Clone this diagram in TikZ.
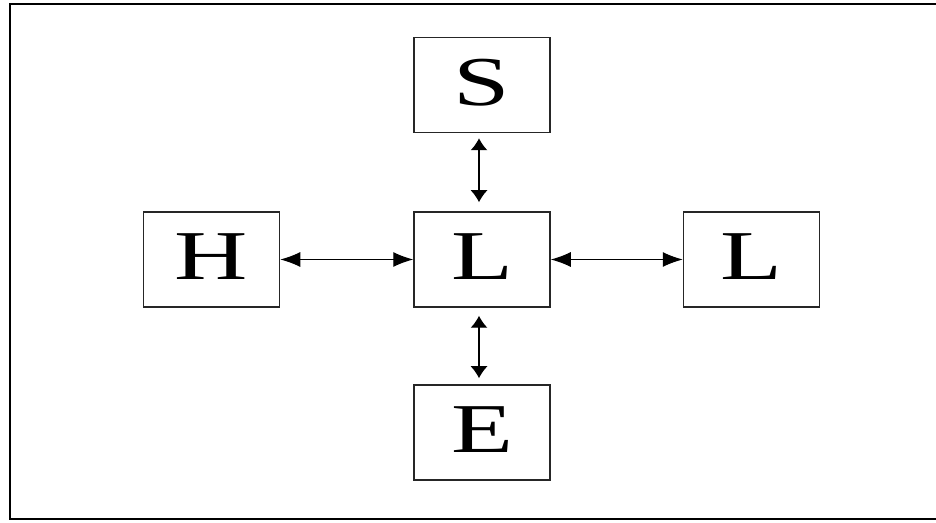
\documentclass[tikz,border=0pt]{standalone}
\usepackage{fontspec}
\setmainfont{Liberation Serif}
\usetikzlibrary{arrows.meta}
\tikzset{
  box/.style={draw=black!85, line width=0.75pt, minimum width=68pt, minimum height=47.5pt, inner sep=0pt,
    font=\fontsize{35}{35}\selectfont},
  harr/.style={{Latex[length=10pt,width=7.5pt]}-{Latex[length=10pt,width=7.5pt]}, line width=0.55pt, draw=black},
  varr/.style={{Latex[length=6pt,width=8.5pt]}-{Latex[length=6pt,width=8.5pt]}, line width=0.6pt, draw=black},
}
\newcommand{\bigletter}[1]{\raisebox{2.5pt}{\scalebox{1.45}[1]{#1}}}
\begin{document}
\begin{tikzpicture}[x=0.5pt,y=-0.5pt]
\useasboundingbox (0,0) rectangle (936,523);
\fill[white] (0,0) rectangle (936,523);
\coordinate (tr) at (936,4);
\coordinate (tl) at (10,4);
\coordinate (bl) at (10,519);
\coordinate (br) at (936,519);
\draw[line width=1.3pt] (tr) -- (tl) -- (bl) -- (br);
\node[box] (S) at (482,85) {\bigletter{S}};
\node[box] (C) at (482,259.5) {\bigletter{L}};
\node[box] (H) at (211.5,259.5) {\bigletter{H}};
\node[box] (R) at (751.5,259.5) {\bigletter{L}};
\node[box] (E) at (482,432.5) {\bigletter{E}};
\draw[varr, shorten <=2.5pt, shorten >=4.5pt] ([xshift=-1.5pt]S.south) -- ([xshift=-1.5pt]C.north);
\draw[varr, shorten <=4pt, shorten >=3pt] ([xshift=-1.5pt]C.south) -- ([xshift=-1.5pt]E.north);
\draw[harr] (H.east) -- (C.west);
\draw[harr] (C.east) -- (R.west);
\end{tikzpicture}
\end{document}
